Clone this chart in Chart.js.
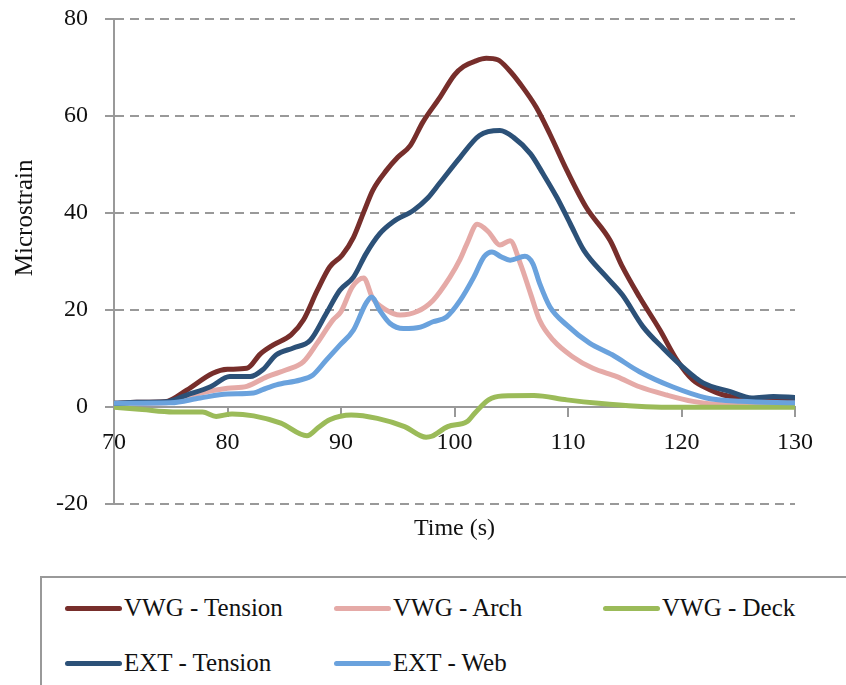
<!DOCTYPE html>
<html>
<head>
<meta charset="utf-8">
<script src="https://cdn.jsdelivr.net/npm/chart.js@4/dist/chart.umd.min.js"></script>
<style>
    body { margin: 0; background: #fff; overflow: hidden; }
    #pagina { position: relative; width: 846px; height: 685px; }
    #grafico { position: absolute; left: 0; top: 0; }
    #leyenda {
        position: absolute; left: 40px; top: 576px; width: 900px; height: 200px;
        border-top: 2px solid #999; border-left: 2px solid #999; box-sizing: border-box;
    }
    .item {
        position: absolute; display: flex; align-items: center; height: 30px;
        font: 25px 'Liberation Serif', 'Times New Roman', serif; color: #111; white-space: nowrap;
    }
    .marca { width: 57px; height: 5px; border-radius: 3px; margin-right: 2px; }
</style>
</head>
<body>
<div id="pagina">
    <canvas id="grafico" width="846" height="560"></canvas>
    <div id="leyenda"></div>
</div>
<script>
// Lecturas de la figura: tiempo (s) y microdeformación de cada sensor
const tVwgTension = [70, 72, 74.5, 76.4, 78.7, 80, 81.7, 82.9, 84, 85.6, 86.7, 87.9, 89, 90.1, 91.1, 92, 92.8, 94, 95, 96.1, 97.2, 98.7, 100, 100.8, 101.8, 102.8, 103.8, 104.8, 105.8, 107.2, 108.4, 109.9, 111.6, 113.7, 114.8, 116.3, 118.1, 119.6, 121, 122.5, 123.7, 126, 128, 130];
const vwgTension = [0.8, 1.0, 1.1, 3.5, 7.0, 7.8, 8.0, 11.0, 12.8, 14.9, 18, 24, 28.9, 31.3, 35, 40.2, 44.7, 48.8, 51.5, 53.9, 58.7, 63.8, 68.5, 70.2, 71.3, 71.9, 71.6, 69.5, 66.6, 61.8, 56.3, 48.8, 41.2, 34.4, 28.9, 22.7, 15.9, 9.7, 5.6, 3.6, 2.5, 1.6, 1.5, 1.4];

const tVwgArch = [70, 74.6, 77.6, 80, 81.7, 83.5, 85.2, 86.7, 87.9, 89.3, 90, 91, 92, 92.8, 94, 95.2, 96.7, 98.1, 99.6, 100.5, 101.1, 102, 103, 104, 104.9, 105.8, 106.7, 107.5, 108.7, 110.4, 112.2, 114.3, 116.3, 118.7, 121, 123.7, 127, 130];
const vwgArch = [0.8, 0.9, 2.9, 3.9, 4.3, 6.3, 7.7, 9.4, 13.2, 18, 19.7, 24.8, 26.6, 22.4, 20, 19, 19.7, 22, 26.8, 30.5, 33.7, 37.7, 36.1, 33.4, 34.3, 29.6, 23.4, 17.9, 13.8, 10.4, 8, 6.3, 4.2, 2.5, 1.2, 0.5, 0.3, 0.3];

const tVwgDeck = [70, 72.5, 75.2, 77.8, 79, 80.4, 82.3, 84.7, 87, 88, 89, 90.9, 93.2, 95.6, 97.5, 98, 99.4, 101.1, 101.8, 103, 104.2, 107, 109.9, 112.7, 116.1, 118.8, 125, 130];
const vwgDeck = [0, -0.5, -1.0, -1.0, -1.9, -1.4, -1.8, -3.3, -5.9, -4.2, -2.6, -1.6, -2.3, -4.0, -6.2, -6.0, -4.0, -3.0, -1.2, 1.5, 2.3, 2.4, 1.5, 0.8, 0.2, 0, 0, 0];

const tExtTension = [70, 72, 74.6, 76.4, 78.5, 80.2, 82, 83.1, 84.3, 85.8, 87.3, 88.7, 89.9, 91.1, 92.2, 93.4, 94.6, 96.4, 97.6, 98.7, 100.5, 102.2, 104, 105.2, 106.7, 107.8, 109, 110.2, 111.4, 113.4, 114.8, 116.6, 118.4, 120.1, 121.9, 124.3, 126.2, 128.1, 130];
const extTension = [0.8, 1.0, 1.1, 2.5, 4.2, 6.3, 6.3, 7.7, 10.8, 12.2, 13.8, 19.3, 24.1, 26.8, 31.6, 35.7, 38.2, 40.6, 43, 46.2, 51.5, 56, 57, 55.6, 52.2, 48.1, 43.3, 37.8, 32.3, 26.8, 23.1, 16.6, 12.1, 8.3, 5, 3.2, 1.9, 2.2, 2.0];

const tExtWeb = [70, 75, 77.6, 80, 82.3, 83.1, 84.3, 86.4, 87.5, 88.7, 89.9, 91.1, 92.2, 92.7, 93.4, 94.3, 95.5, 97, 98.1, 99.3, 100.5, 101.7, 102.6, 103.3, 104.1, 104.9, 106.2, 106.9, 107.5, 108.4, 109.9, 111.9, 113.9, 116.3, 119.2, 122.2, 125.2, 130];
const extWeb = [0.8, 0.9, 1.9, 2.7, 2.9, 3.6, 4.6, 5.6, 6.6, 9.7, 12.8, 15.9, 21.4, 22.7, 20, 17.3, 16.2, 16.5, 17.6, 18.6, 22, 26.8, 31, 32, 31, 30.3, 31.1, 29.6, 25.5, 20.7, 16.9, 13.2, 10.8, 7.3, 4.2, 1.9, 1.2, 0.9];

const nombres = ["VWG - Tension", "VWG - Arch", "VWG - Deck", "EXT - Tension", "EXT - Web"];
const colores = ["#772e2b", "#e5aaa7", "#9bbb59", "#2c5178", "#6aa2dd"];

const ticksX = [70, 80, 90, 100, 110, 120, 130];
const ticksY = [-20, 0, 20, 40, 60, 80];

const fuente = "'Liberation Serif', 'Times New Roman', serif";

function aPuntos(tiempos, valores) {
    return tiempos.map((t, i) => ({ x: t, y: valores[i] }));
}

const series = [
    aPuntos(tVwgTension, vwgTension),
    aPuntos(tVwgArch, vwgArch),
    aPuntos(tVwgDeck, vwgDeck),
    aPuntos(tExtTension, extTension),
    aPuntos(tExtWeb, extWeb)
];

const datasets = series.map((datos, i) => ({
    label: nombres[i],
    data: datos,
    borderColor: colores[i],
    backgroundColor: colores[i],
    borderWidth: 5,
    borderCapStyle: 'round',
    borderJoinStyle: 'round',
    pointRadius: 0,
    cubicInterpolationMode: 'monotone',
    order: series.length - i
}));

const grafico = new Chart(document.getElementById('grafico'), {
    type: 'line',
    data: { datasets: datasets },
    options: {
        responsive: false,
        animation: false,
        layout: { padding: { left: 0, right: 51, top: 19, bottom: 17 } },
        plugins: { legend: { display: false }, tooltip: { enabled: false } },
        scales: {
            x: {
                type: 'linear',
                position: { y: 0 },
                min: 70,
                max: 130,
                afterBuildTicks: escala => { escala.ticks = ticksX.map(v => ({ value: v })); },
                afterFit: escala => { escala.height = 0; },
                border: { color: '#999', width: 2 },
                grid: { drawOnChartArea: false, color: '#999', lineWidth: 2, tickLength: 9 },
                ticks: { color: '#111', padding: 12, maxRotation: 0, font: { family: fuente, size: 24 } }
            },
            xTitulo: {
                type: 'linear',
                position: 'bottom',
                grid: { display: false },
                border: { display: false },
                ticks: { display: false },
                title: {
                    display: true, text: 'Time (s)', color: '#111',
                    padding: { top: 2, bottom: 0 },
                    font: { family: fuente, size: 24 }
                }
            },
            y: {
                min: -20,
                max: 80,
                afterBuildTicks: escala => { escala.ticks = ticksY.map(v => ({ value: v })); },
                afterFit: escala => {
                    escala.width = 114;
                    escala.paddingTop = 14;
                    escala.paddingBottom = 14;
                },
                border: { color: '#999', width: 2, dash: [9, 6] },
                grid: { color: '#999', lineWidth: 2, tickLength: 9, tickBorderDash: [], tickColor: '#999' },
                ticks: { color: '#111', padding: 17, font: { family: fuente, size: 24 } },
                title: {
                    display: true, text: ' '.repeat(14) + 'Microstrain', color: '#111',
                    padding: { top: 10, bottom: 0 },
                    font: { family: fuente, size: 25 }
                }
            }
        }
    }
});

// Leyenda en rejilla (3 columnas) construida desde los datasets del gráfico
const leyenda = document.getElementById('leyenda');
grafico.data.datasets.forEach((ds, i) => {
    const item = document.createElement('div');
    item.className = 'item';
    item.style.left = (23 + (i % 3) * 269) + 'px';
    item.style.top = (15 + Math.floor(i / 3) * 55) + 'px';
    const marca = document.createElement('span');
    marca.className = 'marca';
    marca.style.background = ds.borderColor;
    const texto = document.createElement('span');
    texto.textContent = ds.label;
    item.appendChild(marca);
    item.appendChild(texto);
    leyenda.appendChild(item);
});
</script>
</body>
</html>
